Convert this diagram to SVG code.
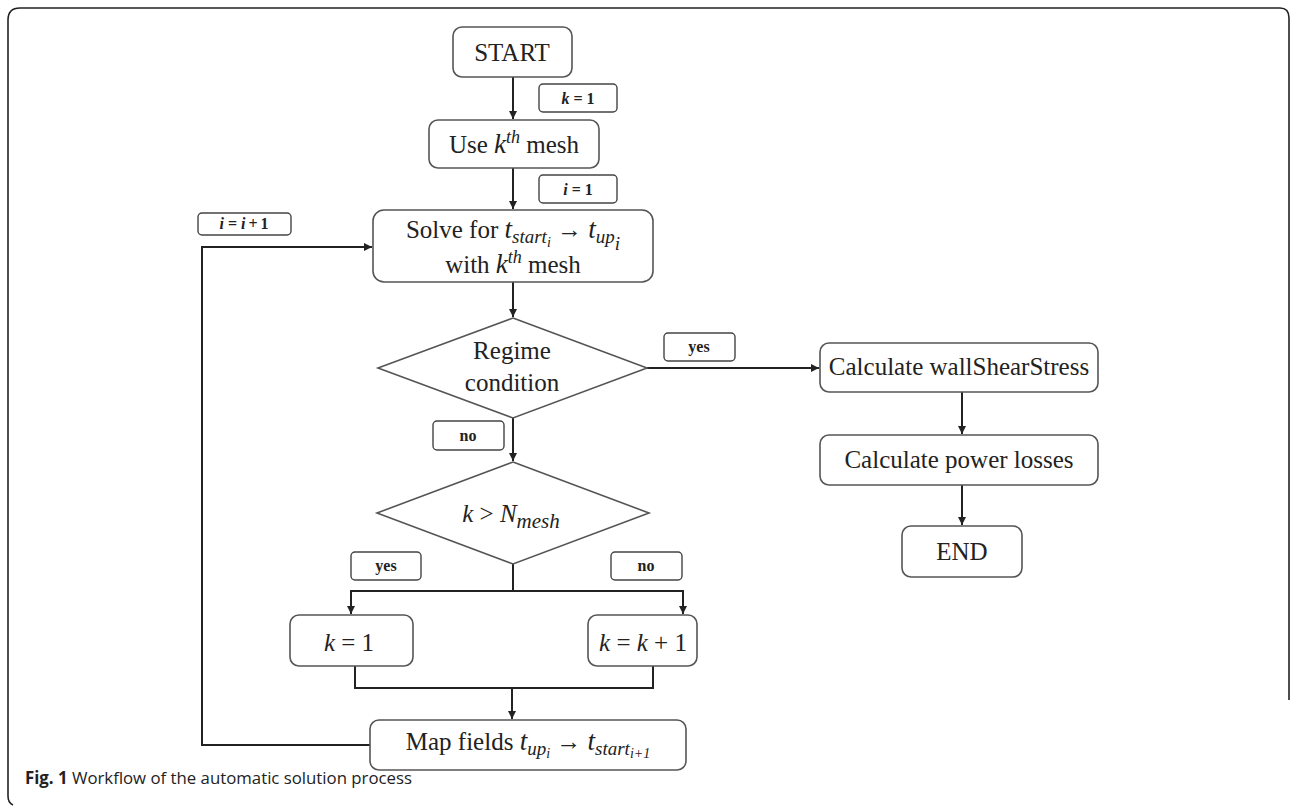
<svg xmlns="http://www.w3.org/2000/svg" width="1292" height="806" viewBox="0 0 1292 806">
<style>
.node{fill:#fff;stroke:#555;stroke-width:1.6}
.lbl{fill:#fff;stroke:#444;stroke-width:1.4}
.t{font-family:"Liberation Serif",serif;font-size:25px;fill:#222;text-anchor:middle}
.m{font-style:italic}
.lt{font-family:"Liberation Serif",serif;font-size:16px;font-weight:bold;fill:#222;text-anchor:middle}
.c{fill:none;stroke:#222;stroke-width:2}
</style>
<defs>
<marker id="ah" markerWidth="10" markerHeight="10" refX="8" refY="4" orient="auto" markerUnits="userSpaceOnUse">
<path d="M0,0 L8,4 L0,8 Z" fill="#222"/>
</marker>
</defs>
<rect width="1292" height="806" fill="#fff"/>
<path d="M8 796 L8 20 Q8 8 20 8 L1280 8 Q1289 8 1289 18 L1289 700" fill="none" stroke="#222" stroke-width="1.6"/>
<path d="M8 796 Q8 803 13 805" fill="none" stroke="#222" stroke-width="1.6"/>

<g id="connectors">
<path class="c" d="M513 77 V119" marker-end="url(#ah)"/>
<path class="c" d="M513 168 V209" marker-end="url(#ah)"/>
<path class="c" d="M513 282 V317" marker-end="url(#ah)"/>
<path class="c" d="M647 368 H819" marker-end="url(#ah)"/>
<path class="c" d="M962 392 V434" marker-end="url(#ah)"/>
<path class="c" d="M962 485 V525" marker-end="url(#ah)"/>
<path class="c" d="M513 418 V461" marker-end="url(#ah)"/>
<path class="c" d="M513 564 V591"/>
<path class="c" d="M351 591 H683"/>
<path class="c" d="M351 590 V614" marker-end="url(#ah)"/>
<path class="c" d="M683 590 V614" marker-end="url(#ah)"/>
<path class="c" d="M355 666 V688 H653 V666"/>
<path class="c" d="M512 688 V719" marker-end="url(#ah)"/>
<path class="c" d="M370 745 H202 V247 H372" marker-end="url(#ah)"/>
</g>

<g id="lbl-k1"><rect class="lbl" x="539" y="84" width="78" height="28" rx="4"/><text class="lt" x="578" y="104" font-size="17"><tspan font-style="italic">k</tspan><tspan dx="4">=</tspan><tspan dx="4">1</tspan></text></g>
<g id="lbl-i1"><rect class="lbl" x="539" y="175" width="78" height="28" rx="4"/><text class="lt" x="578" y="195" font-size="17"><tspan font-style="italic">i</tspan><tspan dx="4">=</tspan><tspan dx="4">1</tspan></text></g>
<g id="lbl-ii1"><rect class="lbl" x="198" y="213" width="93" height="22" rx="4"/><text class="lt" x="244" y="229" font-size="17"><tspan font-style="italic">i</tspan><tspan dx="4">=</tspan><tspan dx="4" font-style="italic">i</tspan><tspan dx="3">+</tspan><tspan dx="3">1</tspan></text></g>
<g id="lbl-yes1"><rect class="lbl" x="664" y="333" width="71" height="28" rx="4"/><text class="lt" x="699" y="352">yes</text></g>
<g id="lbl-no1"><rect class="lbl" x="433" y="421" width="71" height="29" rx="4"/><text class="lt" x="468" y="441">no</text></g>
<g id="lbl-yes2"><rect class="lbl" x="351" y="552" width="70" height="28" rx="4"/><text class="lt" x="386" y="571">yes</text></g>
<g id="lbl-no2"><rect class="lbl" x="611" y="552" width="71" height="28" rx="4"/><text class="lt" x="646" y="571">no</text></g>

<g id="start"><rect class="node" x="453" y="27" width="119" height="50" rx="9"/><text class="t" x="512" y="61">START</text></g>
<g id="use"><rect class="node" x="429" y="120" width="170" height="48" rx="9"/><text class="t" x="514" y="153">Use <tspan class="m" font-size="27">k</tspan><tspan class="m" font-size="18" dy="-10">th</tspan><tspan dy="10"> mesh</tspan></text></g>
<g id="solve"><rect class="node" x="373" y="210" width="280" height="72" rx="11"/>
<text class="t" x="513" y="238">Solve for <tspan class="m" font-size="27">t</tspan><tspan class="m" font-size="19" dy="5">start</tspan><tspan class="m" font-size="14" dy="4">i</tspan><tspan dy="-9"> → </tspan><tspan class="m" font-size="27">t</tspan><tspan class="m" font-size="19" dy="5">up</tspan><tspan class="m" font-size="19" dy="7">i</tspan></text>
<text class="t" x="513" y="273">with <tspan class="m" font-size="27">k</tspan><tspan class="m" font-size="18" dy="-10">th</tspan><tspan dy="10"> mesh</tspan></text></g>
<g id="regime"><polygon class="node" points="513,318 647,368 513,418 378,368"/><text class="t" x="512" y="359">Regime</text><text class="t" x="512" y="391">condition</text></g>
<g id="wss"><rect class="node" x="820" y="343" width="278" height="49" rx="9"/><text class="t" x="959" y="375">Calculate wallShearStress</text></g>
<g id="power"><rect class="node" x="820" y="435" width="278" height="50" rx="9"/><text class="t" x="959" y="468">Calculate power losses</text></g>
<g id="end"><rect class="node" x="902" y="526" width="120" height="51" rx="9"/><text class="t" x="962" y="560">END</text></g>
<g id="kn"><polygon class="node" points="513,462 649,513 513,564 377,513"/><text class="t" x="511" y="522" font-size="30"><tspan class="m">k</tspan> &gt; <tspan class="m">N</tspan><tspan class="m" font-size="21" dy="6">mesh</tspan></text></g>
<g id="k1"><rect class="node" x="290" y="615" width="123" height="51" rx="9"/><text class="t" x="349" y="651" font-size="30"><tspan class="m">k</tspan> = 1</text></g>
<g id="kk1"><rect class="node" x="588" y="615" width="109" height="51" rx="9"/><text class="t" x="643" y="651" font-size="29"><tspan class="m">k</tspan> = <tspan class="m">k</tspan> + 1</text></g>
<g id="map"><rect class="node" x="370" y="720" width="316" height="50" rx="9"/>
<text class="t" x="528" y="750">Map fields <tspan class="m" font-size="27">t</tspan><tspan class="m" font-size="19" dy="5">up</tspan><tspan class="m" font-size="14" dy="3">i</tspan><tspan dy="-8"> → </tspan><tspan class="m" font-size="27">t</tspan><tspan class="m" font-size="19" dy="5">start</tspan><tspan class="m" font-size="14" dy="3">i+1</tspan></text></g>

<g id="caption"><text x="25" y="784" font-family="'Open Sans','Liberation Sans',sans-serif" font-size="17" fill="#222" textLength="387" lengthAdjust="spacingAndGlyphs"><tspan font-weight="bold">Fig. 1</tspan> Workflow of the automatic solution process</text></g>
</svg>
